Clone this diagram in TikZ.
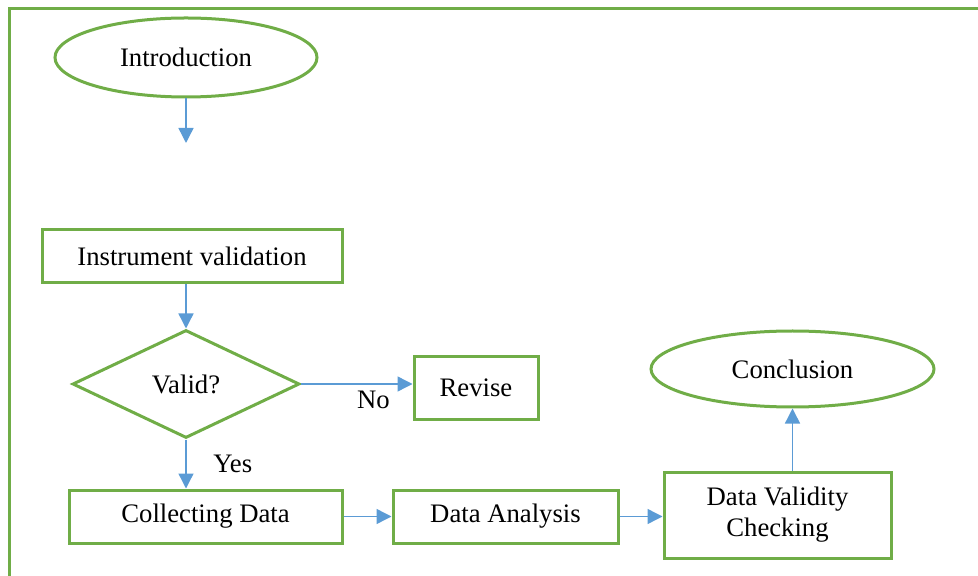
\documentclass[tikz,border=0pt]{standalone}
\usepackage{fontspec}
\setmainfont{Liberation Serif}
\usetikzlibrary{shapes.geometric,arrows.meta}
\definecolor{boxgreen}{HTML}{70AD47}
\definecolor{linkblue}{HTML}{5B9BD5}
\tikzset{
	stepbox/.style={rectangle,draw=boxgreen,line width=1.5pt,inner sep=2pt},
	terminal/.style={ellipse,draw=boxgreen,line width=1.5pt,inner sep=0pt},
	decision/.style={diamond,draw=boxgreen,line width=1.5pt,inner sep=0pt,shape aspect=2.1},
	flow/.style={draw,color=linkblue,line width=.7pt,-{Triangle[length=7.5pt,width=7.5pt]}}
}
\begin{document}
\begin{tikzpicture}[x=.5pt,y=-.5pt,font=\fontsize{13.35}{15.5}\selectfont]
	\useasboundingbox (0,0) rectangle (978,576);
	\clip (0,0) rectangle (978,576);
	% outer frame
	\draw[boxgreen,line width=1.5pt] (9,9) rectangle (1000,600);
	\node[terminal,minimum width=131pt,minimum height=39.5pt]	(Intro) at (186,57.5)		{Introduction};
	\coordinate						(IntroEnd) at (186,143);
	\node[stepbox,minimum width=150pt,minimum height=26.5pt]	(Instr) at (192,256.5)	{Instrument validation};
	\node[decision,minimum width=113.5pt,minimum height=54pt]	(Valid) at (186,384)		{Valid?};
	\node[stepbox,minimum width=62pt,minimum height=31pt]		(Revise) at (476,388)	{Revise};
	\node[stepbox,minimum width=136.5pt,minimum height=26.5pt]	(Collect) at (205.5,516.5)	{Collecting Data};
	\node[stepbox,minimum width=112.5pt,minimum height=26.5pt]	(Analysis) at (505.5,516.5)	{Data Analysis};
	\node[stepbox,minimum width=113.5pt,minimum height=43pt,align=center]	(Check) at (777.5,515)	{Data Validity\\Checking};
	\node[terminal,minimum width=141.5pt,minimum height=38pt]	(Concl) at (792.5,369)	{Conclusion};
	\path[every edge/.style={flow}]
	(Intro.south) edge (IntroEnd)
	(Instr.south -| Intro.south) edge (Valid.north)
	(Valid.east) edge node[below,pos=.65,black] {No} (Valid.east -| Revise.west)
	(Valid.south) edge node[right=10pt,black] {Yes} (Collect.north -| Valid.south)
	(Collect.east) edge (Analysis.west)
	(Analysis.east) edge (Analysis.east -| Check.west)
	(Concl.south |- Check.north) edge (Concl.south)
	;
\end{tikzpicture}
\end{document}
